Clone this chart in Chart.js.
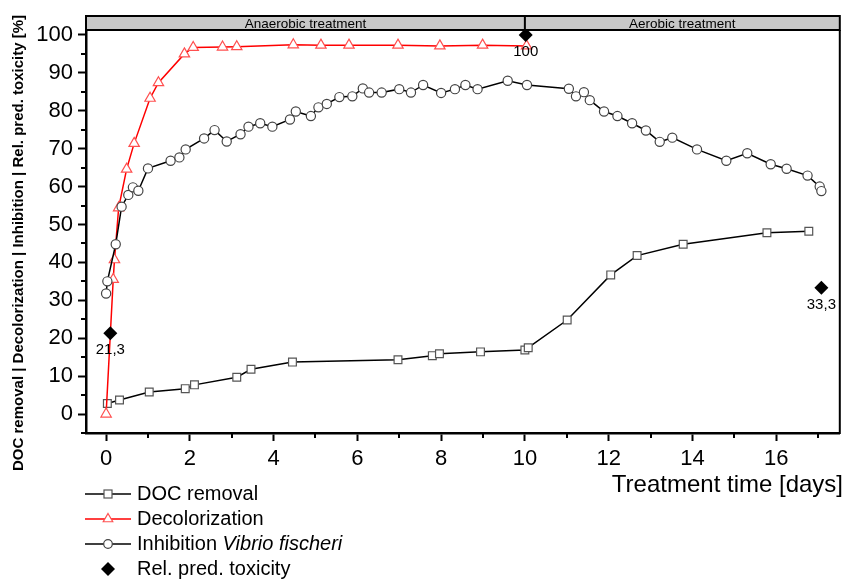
<!DOCTYPE html>
<html>
<head>
<meta charset="utf-8">
<script src="https://cdn.jsdelivr.net/npm/chart.js@4.4.1/dist/chart.umd.min.js"></script>
<style>
  html, body { margin: 0; padding: 0; background: #fff; }
  canvas { display: block; }
</style>
</head>
<body>
<canvas id="chart" width="847" height="581"></canvas>
<script>
// DOC removal
const docDays = [0.03, 0.32, 1.03, 1.89, 2.11, 3.12, 3.46, 4.45, 6.97, 7.79, 7.96, 8.94, 10.0, 10.08, 11.01, 12.05, 12.68, 13.78, 15.78, 16.78];
const docValues = [2.8, 3.7, 5.8, 6.7, 7.7, 9.7, 11.8, 13.7, 14.3, 15.4, 15.9, 16.4, 16.9, 17.5, 24.8, 36.7, 41.8, 44.8, 47.8, 48.2];

// Decolorization
const decoDays = [0, 0.17, 0.2, 0.3, 0.49, 0.67, 1.05, 1.25, 1.87, 2.08, 2.78, 3.12, 4.47, 5.13, 5.8, 6.97, 7.97, 8.99, 10.04];
const decoValues = [0, 35.5, 40.7, 54.4, 64.6, 71.4, 83.3, 87.4, 95, 96.7, 96.8, 96.9, 97.4, 97.3, 97.3, 97.3, 97.1, 97.3, 97.1];

// Inhibition Vibrio fischeri
const inhDays = [0, 0.03, 0.23, 0.37, 0.53, 0.64, 0.77, 1.0, 1.54, 1.75, 1.9, 2.34, 2.59, 2.88, 3.21, 3.4, 3.68, 3.97, 4.39, 4.53,
  4.89, 5.07, 5.27, 5.57, 5.88, 6.13, 6.28, 6.58, 7.0, 7.28, 7.57, 8.0, 8.33, 8.58, 8.87, 9.59, 10.05, 11.05, 11.22, 11.41,
  11.55, 11.89, 12.21, 12.56, 12.89, 13.22, 13.52, 14.11, 14.81, 15.31, 15.87, 16.25, 16.75, 17.04, 17.08];
const inhValues = [31.8, 35, 44.8, 54.7, 57.8, 59.8, 58.9, 64.8, 66.8, 67.7, 69.8, 72.7, 74.9, 71.9, 73.8, 75.8, 76.7, 75.8, 77.7, 79.8,
  78.6, 80.9, 81.8, 83.6, 83.8, 85.9, 84.8, 84.8, 85.7, 84.8, 86.8, 84.7, 85.7, 86.8, 85.7, 87.9, 86.8, 85.8, 83.8, 84.9,
  82.8, 79.8, 78.6, 76.7, 74.8, 71.8, 72.9, 69.8, 66.8, 68.8, 65.9, 64.7, 62.9, 60.0, 58.8];

// Rel. pred. toxicity
const toxDays = [0.1, 10.02, 17.08];
const toxValues = [21.3, 100, 33.3];

// axes
const xTicks = [0, 1, 2, 3, 4, 5, 6, 7, 8, 9, 10, 11, 12, 13, 14, 15, 16, 17];
const yTicks = [-5, 0, 5, 10, 15, 20, 25, 30, 35, 40, 45, 50, 55, 60, 65, 70, 75, 80, 85, 90, 95, 100];
const phaseNames = ["Anaerobic treatment", "Aerobic treatment"];
const phaseSplit = 10;

const legendNames = ["DOC removal", "Decolorization", "Inhibition ", "Rel. pred. toxicity"];

const FONT = "'Liberation Sans', Arial, Helvetica, sans-serif";
Chart.defaults.font.family = FONT;
Chart.defaults.color = "#000";

function pts(xs, ys) {
  return xs.map((x, i) => ({ x: x, y: ys[i] }));
}

// top band with treatment phases, frame, minor ticks, titles
const decorPlugin = {
  id: "decor",
  afterDraw(chart) {
    const ctx = chart.ctx;
    const a = chart.chartArea;
    const xs = chart.scales.x, ys = chart.scales.y;
    ctx.save();

    // minor ticks
    ctx.strokeStyle = "#000";
    ctx.lineWidth = 2;
    yTicks.forEach(v => {
      if (v % 10 !== 0) {
        const py = Math.round(ys.getPixelForValue(v));
        ctx.beginPath(); ctx.moveTo(a.left - 5, py); ctx.lineTo(a.left, py); ctx.stroke();
      }
    });
    xTicks.forEach(v => {
      if (v % 2 !== 0) {
        const px = Math.round(xs.getPixelForValue(v));
        ctx.beginPath(); ctx.moveTo(px, a.bottom); ctx.lineTo(px, a.bottom + 5); ctx.stroke();
      }
    });

    // right frame
    ctx.beginPath(); ctx.moveTo(a.right, a.top); ctx.lineTo(a.right, a.bottom + 1); ctx.stroke();

    // band
    const bTop = 16;
    ctx.fillStyle = "#c8c8c8";
    ctx.fillRect(a.left, bTop, a.right - a.left, a.top - bTop);
    ctx.lineWidth = 2;
    ctx.strokeRect(a.left, bTop, a.right - a.left, a.top - bTop);
    const sx = xs.getPixelForValue(phaseSplit);
    ctx.beginPath(); ctx.moveTo(sx, bTop); ctx.lineTo(sx, a.top); ctx.stroke();
    ctx.fillStyle = "#000";
    ctx.font = "13.5px " + FONT;
    ctx.textAlign = "center";
    ctx.textBaseline = "middle";
    ctx.fillText(phaseNames[0], (a.left + sx) / 2, (bTop + a.top) / 2 + 1);
    ctx.fillText(phaseNames[1], (sx + a.right) / 2, (bTop + a.top) / 2 + 1);

    // axis titles
    ctx.font = "bold 15px " + FONT;
    ctx.save();
    ctx.translate(19, 243);
    ctx.rotate(-Math.PI / 2);
    ctx.fillText("DOC removal | Decolorization | Inhibition | Rel. pred. toxicity [%]", 0, 0);
    ctx.restore();

    ctx.font = "24px " + FONT;
    ctx.textAlign = "right";
    ctx.textBaseline = "alphabetic";
    ctx.fillText("Treatment time [days]", 843, 492);

    // legend
    const lx0 = 85, lx1 = 131, mx = 108, tx = 137;
    const rows = [494, 519, 544, 569];
    ctx.textAlign = "left";
    ctx.textBaseline = "middle";
    rows.forEach((y, i) => {
      ctx.lineWidth = 1.5;
      if (i < 3) {
        ctx.strokeStyle = i === 1 ? "#ff0000" : "#000";
        ctx.beginPath(); ctx.moveTo(lx0, y); ctx.lineTo(lx1, y); ctx.stroke();
      }
      ctx.fillStyle = "#fff";
      ctx.lineWidth = 1.2;
      if (i === 0) {
        ctx.strokeStyle = "#555";
        ctx.fillRect(mx - 4, y - 4, 8, 8);
        ctx.strokeRect(mx - 4, y - 4, 8, 8);
      } else if (i === 1) {
        ctx.strokeStyle = "#ff5050";
        const r = 5.5;
        ctx.beginPath();
        ctx.moveTo(mx, y - r);
        ctx.lineTo(mx + r * 0.866, y + r * 0.5);
        ctx.lineTo(mx - r * 0.866, y + r * 0.5);
        ctx.closePath(); ctx.fill(); ctx.stroke();
      } else if (i === 2) {
        ctx.strokeStyle = "#444";
        ctx.beginPath(); ctx.arc(mx, y, 4.3, 0, Math.PI * 2); ctx.fill(); ctx.stroke();
      } else {
        ctx.fillStyle = "#000";
        const r = 7;
        ctx.beginPath();
        ctx.moveTo(mx, y - r); ctx.lineTo(mx + r, y); ctx.lineTo(mx, y + r); ctx.lineTo(mx - r, y);
        ctx.closePath(); ctx.fill();
      }
      ctx.fillStyle = "#000";
      ctx.font = "20px " + FONT;
      ctx.fillText(legendNames[i], tx, y);
      if (i === 2) {
        const w = ctx.measureText(legendNames[i]).width;
        ctx.font = "italic 20px " + FONT;
        ctx.fillText("Vibrio fischeri", tx + w, y);
      }
    });
    ctx.restore();
  },
  afterDatasetsDraw(chart) {
    // value labels under toxicity points
    const ctx = chart.ctx;
    const meta = chart.getDatasetMeta(0);
    ctx.save();
    ctx.fillStyle = "#000";
    ctx.font = "15px " + FONT;
    ctx.textAlign = "center";
    ctx.textBaseline = "middle";
    meta.data.forEach((p, i) => {
      ctx.fillText(String(toxValues[i]).replace(".", ","), p.x, p.y + 17);
    });
    ctx.restore();
  }
};

new Chart(document.getElementById("chart"), {
  type: "scatter",
  data: {
    datasets: [
      {
        label: "Rel. pred. toxicity",
        data: pts(toxDays, toxValues),
        showLine: false,
        pointStyle: "rectRot",
        pointRadius: 7,
        backgroundColor: "#000",
        borderColor: "#000",
        borderWidth: 0,
        order: 0
      },
      {
        label: "Inhibition Vibrio fischeri",
        data: pts(inhDays, inhValues),
        showLine: true,
        borderColor: "#000",
        borderWidth: 1.5,
        pointStyle: "circle",
        pointRadius: 4.6,
        pointBackgroundColor: "#fff",
        pointBorderColor: "#444",
        pointBorderWidth: 1.2,
        order: 1
      },
      {
        label: "Decolorization",
        data: pts(decoDays, decoValues),
        showLine: true,
        borderColor: "#ff0000",
        borderWidth: 1.5,
        pointStyle: "triangle",
        pointRadius: 6,
        pointBackgroundColor: "#fff",
        pointBorderColor: "#ff5050",
        pointBorderWidth: 1.2,
        order: 2
      },
      {
        label: "DOC removal",
        data: pts(docDays, docValues),
        showLine: true,
        borderColor: "#000",
        borderWidth: 1.5,
        pointStyle: "rect",
        pointRadius: 5.5,
        pointBackgroundColor: "#fff",
        pointBorderColor: "#555",
        pointBorderWidth: 1.2,
        order: 3
      }
    ]
  },
  options: {
    responsive: false,
    animation: false,
    layout: { padding: { left: 0, right: 7, top: 30, bottom: 0 } },
    plugins: { legend: { display: false }, tooltip: { enabled: false } },
    scales: {
      x: {
        type: "linear",
        min: -0.48,
        max: 17.52,
        afterBuildTicks: s => { s.ticks = xTicks.map(v => ({ value: v })); },
        afterFit: s => { s.height = 148; },
        ticks: {
          autoSkip: false,
          maxRotation: 0,
          padding: 5,
          font: { size: 22 },
          color: "#000",
          callback: v => (v % 2 === 0 ? String(v) : "")
        },
        grid: {
          drawOnChartArea: false,
          tickLength: 8,
          tickWidth: 2,
          color: c => (c.tick && c.tick.value % 2 === 0 ? "#000" : "rgba(0,0,0,0)")
        },
        border: { display: true, color: "#000", width: 2.5 }
      },
      y: {
        type: "linear",
        min: -5,
        max: 101.3,
        afterBuildTicks: s => { s.ticks = yTicks.map(v => ({ value: v })); },
        afterFit: s => { s.width = 86; },
        ticks: {
          autoSkip: false,
          padding: 5,
          font: { size: 22 },
          color: "#000",
          callback: v => (v % 10 === 0 && v >= 0 ? String(v) : "")
        },
        grid: {
          drawOnChartArea: false,
          tickLength: 8,
          tickWidth: 2,
          color: c => (c.tick && c.tick.value % 10 === 0 ? "#000" : "rgba(0,0,0,0)")
        },
        border: { display: true, color: "#000", width: 2.5 }
      }
    }
  },
  plugins: [decorPlugin]
});
</script>
</body>
</html>
